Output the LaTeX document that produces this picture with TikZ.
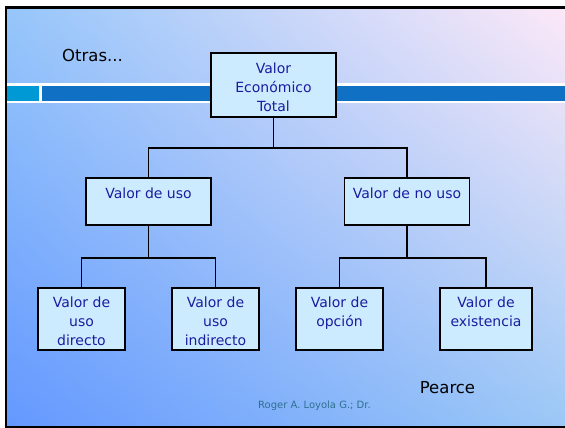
\documentclass[tikz,border=0pt]{standalone}
\usepackage{fontspec}
\setmainfont{DejaVu Sans}
\usetikzlibrary{shadings}

\definecolor{boxfill}{RGB}{204,235,255}
\definecolor{boxtext}{RGB}{28,28,160}
\definecolor{bandblue}{RGB}{16,112,196}
\definecolor{bandcyan}{RGB}{0,153,214}
\definecolor{footteal}{RGB}{46,112,144}
\definecolor{bgll}{RGB}{100,152,255}
\definecolor{bgul}{RGB}{150,198,250}
\definecolor{bgur}{RGB}{252,232,248}
\definecolor{bglr}{RGB}{155,200,246}

\begin{document}
\begin{tikzpicture}[x=1pt,y=-1pt,
  valbox/.style={draw=black,line width=1.8pt,fill=boxfill,text=boxtext,
    inner sep=0pt,align=center,font=\fontsize{14}{19}\selectfont},
  topbox/.style={valbox,minimum width=125pt,text height=58.5pt,text depth=5.5pt},
  midbox/.style={valbox,minimum width=125pt,text height=20pt,text depth=27pt},
  lowbox/.style={valbox,minimum width=87pt,text height=57pt,text depth=5pt},
  lowboxtwo/.style={lowbox,text height=38pt,text depth=24pt},
  conn/.style={draw=black,line width=1.8pt}]
\useasboundingbox (0,0) rectangle (565,428);
\clip (0,0) rectangle (565,428);
\fill[white] (0,0) rectangle (565,428);
\shade[lower left=bgll,upper left=bgul,upper right=bgur,lower right=bglr]
  (6,7.5) rectangle (565,427);

\fill[white] (6,83) rectangle (565,103);
\fill[bandcyan] (7,86) rectangle (39,101);
\fill[bandblue] (42,86) rectangle (565,101);
\draw[line width=2.5pt] (580,7.5) -- (6,7.5) -- (6,427) -- (580,427);

\node[font=\fontsize{16.5}{20}\selectfont] (otras) at (92.5,55.5) {Otras...};

\node[topbox] (vet) at (273.5,85) {Valor\\Económico\\Total};

\node[midbox] (vu) at (148.5,201.5) {Valor de uso};
\node[midbox] (vnu) at (407,201.5) {Valor de no uso};

\node[lowbox] (vud) at (81.5,319) {Valor de\\uso\\directo};
\node[lowbox] (vui) at (215.5,319) {Valor de\\uso\\indirecto};
\node[lowboxtwo] (vop) at (339.5,319) {Valor de\\opción};
\node[lowboxtwo,minimum width=92pt] (vex) at (486,319) {Valor de\\existencia};

\draw[conn] (vet.south) -- ++(0,30) -| (vu.north);
\draw[conn] (vet.south) -- ++(0,30) -| (vnu.north);
\draw[conn] (vu.south) -- ++(0,32) -| (vud.north);
\draw[conn] (vu.south) -- ++(0,32) -| (vui.north);
\draw[conn] (vnu.south) -- ++(0,32) -| (vop.north);
\draw[conn] (vnu.south) -- ++(0,32) -| (vex.north);

\node[font=\fontsize{16.5}{20}\selectfont] (pearce) at (447.5,388) {Pearce};
\node[font=\fontsize{10}{12}\selectfont,text=footteal] (autor) at (314.5,406) {Roger A. Loyola G.; Dr.};
\end{tikzpicture}
\end{document}
